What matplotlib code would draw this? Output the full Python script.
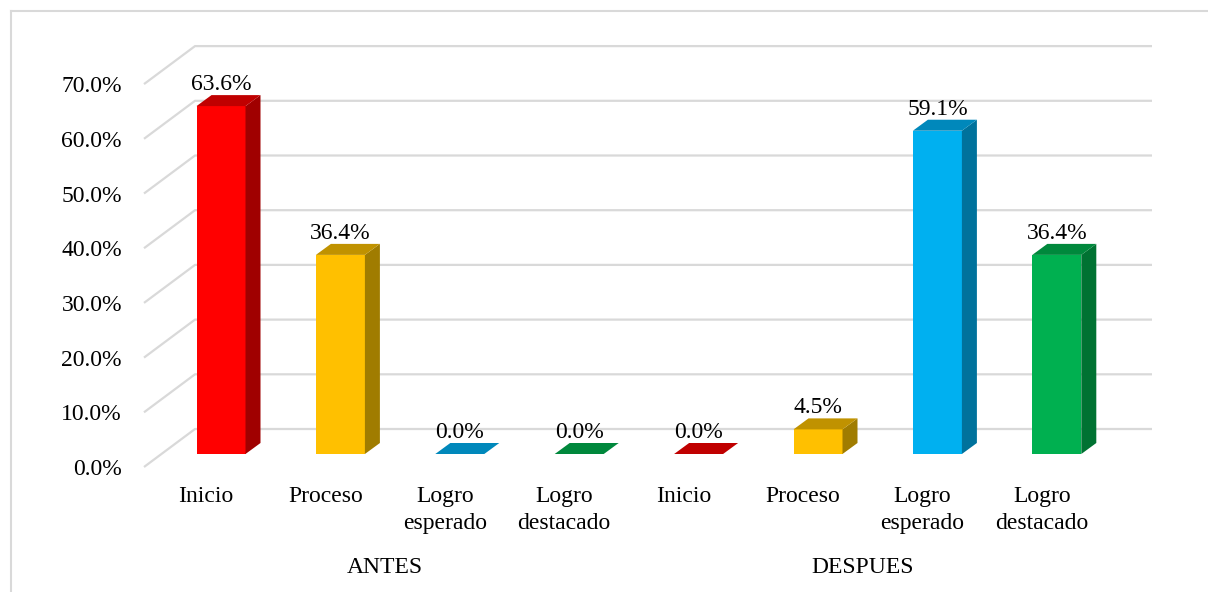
import matplotlib
matplotlib.use("Agg")
import matplotlib.pyplot as plt
from matplotlib.patches import Polygon
from matplotlib.lines import Line2D

# ---- data ----
groups = ["ANTES", "DESPUES"]
categories = ["Inicio", "Proceso", "Logro\nesperado", "Logro\ndestacado"]
antes_values = [63.6, 36.4, 0.0, 0.0]
despues_values = [0.0, 4.5, 59.1, 36.4]
y_ticks = [0, 10, 20, 30, 40, 50, 60, 70]

# colours per category: front, side, top
front_colors = ["#FF0000", "#FFC000", "#00B0F0", "#00B050"]
side_colors = ["#A00000", "#A07C00", "#00729C", "#007232"]
top_colors = ["#C00000", "#C09200", "#0088BB", "#00883C"]

W, H = 1208, 592
fig = plt.figure(figsize=(W / 100, H / 100), dpi=100)
ax = fig.add_axes([0, 0, 1, 1])

# pixel -> data mapping constants (layout)
x0_px, x_step = 221.0, 119.4   # front centre of first bar, category spacing
y0_px, y_step = 454.0, 5.47    # front floor level, px per percent
ax.set_xlim((0 - x0_px) / x_step, (W - x0_px) / x_step)
ax.set_ylim((y0_px - H) / y_step, y0_px / y_step)
ax.axis("off")

# perspective offsets (data units)
bar_w = 49 / x_step
side_dx, side_dy = 15 / x_step, 11 / y_step
wall_x_front, wall_x_back = (144 - x0_px) / x_step, (195 - x0_px) / x_step
wall_y_front, wall_y_back = (y0_px - 467) / y_step, (y0_px - 429) / y_step
wall_x_end = (1152 - x0_px) / x_step

font = "Liberation Serif"
fs = 17
grid_c = "#D9D9D9"

# gridlines (side wall diagonals + back wall horizontals)
for t in y_ticks:
    ax.plot([wall_x_front, wall_x_back, wall_x_end],
            [t + wall_y_front, t + wall_y_back, t + wall_y_back],
            color=grid_c, lw=1.6, zorder=1, solid_capstyle="butt")
    ax.text(wall_x_front - 22 / x_step, t + wall_y_front - 8 / y_step, f"{t:.1f}%",
            ha="right", va="baseline", fontsize=fs, family=font, color="#000000")

# bars
values = antes_values + despues_values
n = len(categories)
for i, v in enumerate(values):
    c = i % n
    x = i
    xl, xr = x - bar_w / 2, x + bar_w / 2
    if v > 0:
        ax.bar(x, v, width=bar_w, bottom=0, color=front_colors[c], zorder=3,
               linewidth=0)
        side = Polygon([(xr, 0), (xr + side_dx, side_dy), (xr + side_dx, v + side_dy), (xr, v)],
                       closed=True, facecolor=side_colors[c], edgecolor="none", zorder=3)
        ax.add_patch(side)
    top = Polygon([(xl, v), (xr, v), (xr + side_dx, v + side_dy), (xl + side_dx, v + side_dy)],
                  closed=True, facecolor=top_colors[c], edgecolor="none", zorder=4)
    ax.add_patch(top)
    ax.text(x, v + side_dy + 5 / y_step, f"{v:.1f}%", ha="center", va="baseline",
            fontsize=fs, family=font, color="#000000", zorder=5)

# category labels (one text per line so line spacing matches)
label_dx = -15 / x_step
line_gap = 27
for i in range(len(values)):
    lab = categories[i % n]
    for k, line in enumerate(lab.split("\n")):
        ax.text(i + label_dx, (y0_px - 502 - k * line_gap) / y_step, line,
                ha="center", va="baseline", fontsize=fs, family=font, color="#000000")

# group labels
for g, name in enumerate(groups):
    gx = g * n + (n - 1) / 2 + label_dx
    ax.text(gx, (y0_px - 573) / y_step, name, ha="center", va="baseline",
            fontsize=fs, family=font, color="#000000")

# outer chart border (left and top visible)
fig.add_artist(Line2D([10.5 / W, 10.5 / W], [0, 1 - 11 / H], color="#D9D9D9", lw=1.5))
fig.add_artist(Line2D([10.5 / W, 1], [1 - 11 / H, 1 - 11 / H], color="#D9D9D9", lw=1.5))

fig.savefig("out.png", dpi=100, facecolor="white")
